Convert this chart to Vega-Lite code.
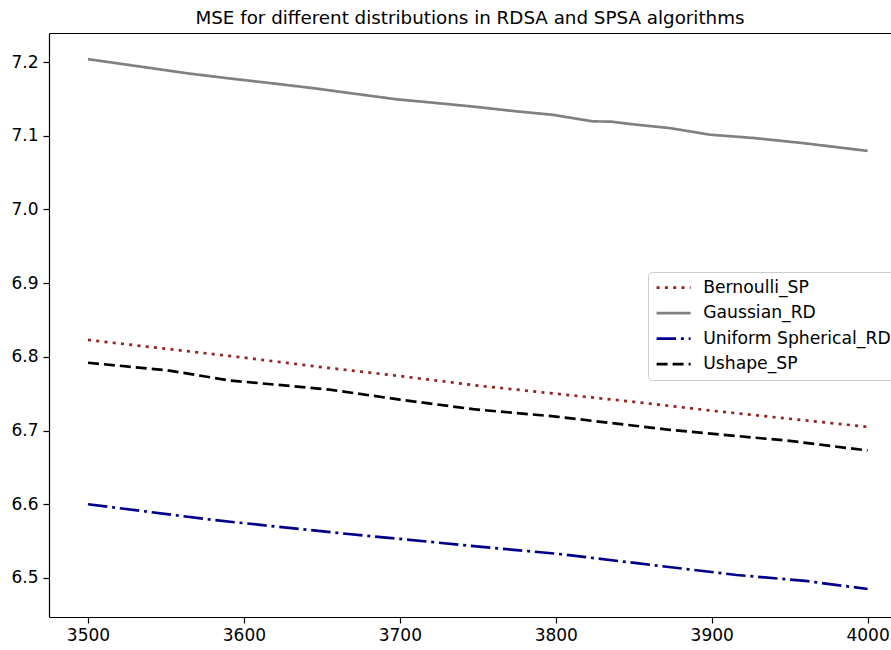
{
  "$schema": "https://vega.github.io/schema/vega-lite/v6.json",
  "width": 842,
  "height": 584,
  "autosize": {"type": "none"},
  "padding": {"left": 49, "top": 33, "right": 0, "bottom": 33},
  "background": "white",
  "title": {
    "text": "MSE for different distributions in RDSA and SPSA algorithms",
    "font": "DejaVu Sans",
    "fontSize": 18.3,
    "fontWeight": "normal",
    "color": "#000000",
    "offset": 5,
    "anchor": "middle"
  },
  "config": {
    "view": {"stroke": null},
    "font": "DejaVu Sans",
    "axis": {
      "grid": false,
      "domainColor": "#000000",
      "domainWidth": 1.2,
      "tickColor": "#000000",
      "tickWidth": 1.2,
      "tickSize": 6,
      "labelFont": "DejaVu Sans",
      "labelFontSize": 17,
      "labelColor": "#000000",
      "title": null
    },
    "legend": {
      "fillColor": "rgba(255,255,255,0.85)",
      "strokeColor": "#cccccc",
      "cornerRadius": 4,
      "padding": 7,
      "labelFont": "DejaVu Sans",
      "labelFontSize": 17.2,
      "labelColor": "#000000",
      "labelLimit": 0,
      "labelOffset": 21,
      "rowPadding": 7.5,
      "symbolType": "M-3.4,0H3.4",
      "symbolSize": 100,
      "symbolOffset": 10,
      "symbolStrokeWidth": 2.7
    }
  },
  "data": {
    "values": [
      {"x": 3500, "mse": 7.204, "series": "Gaussian_RD"},
      {"x": 3525, "mse": 7.1965, "series": "Gaussian_RD"},
      {"x": 3540, "mse": 7.192, "series": "Gaussian_RD"},
      {"x": 3563, "mse": 7.185, "series": "Gaussian_RD"},
      {"x": 3590, "mse": 7.178, "series": "Gaussian_RD"},
      {"x": 3615, "mse": 7.172, "series": "Gaussian_RD"},
      {"x": 3645, "mse": 7.1645, "series": "Gaussian_RD"},
      {"x": 3666, "mse": 7.1585, "series": "Gaussian_RD"},
      {"x": 3698, "mse": 7.1495, "series": "Gaussian_RD"},
      {"x": 3721, "mse": 7.145, "series": "Gaussian_RD"},
      {"x": 3750, "mse": 7.139, "series": "Gaussian_RD"},
      {"x": 3771, "mse": 7.134, "series": "Gaussian_RD"},
      {"x": 3798, "mse": 7.1285, "series": "Gaussian_RD"},
      {"x": 3824, "mse": 7.1195, "series": "Gaussian_RD"},
      {"x": 3835, "mse": 7.1193, "series": "Gaussian_RD"},
      {"x": 3852, "mse": 7.115, "series": "Gaussian_RD"},
      {"x": 3873, "mse": 7.1105, "series": "Gaussian_RD"},
      {"x": 3899, "mse": 7.1015, "series": "Gaussian_RD"},
      {"x": 3927, "mse": 7.097, "series": "Gaussian_RD"},
      {"x": 3959, "mse": 7.09, "series": "Gaussian_RD"},
      {"x": 4000, "mse": 7.0795, "series": "Gaussian_RD"},

      {"x": 3500, "mse": 6.823, "series": "Bernoulli_SP"},
      {"x": 3550, "mse": 6.811, "series": "Bernoulli_SP"},
      {"x": 3600, "mse": 6.799, "series": "Bernoulli_SP"},
      {"x": 3650, "mse": 6.786, "series": "Bernoulli_SP"},
      {"x": 3700, "mse": 6.774, "series": "Bernoulli_SP"},
      {"x": 3750, "mse": 6.761, "series": "Bernoulli_SP"},
      {"x": 3800, "mse": 6.750, "series": "Bernoulli_SP"},
      {"x": 3850, "mse": 6.739, "series": "Bernoulli_SP"},
      {"x": 3900, "mse": 6.727, "series": "Bernoulli_SP"},
      {"x": 3950, "mse": 6.716, "series": "Bernoulli_SP"},
      {"x": 4000, "mse": 6.705, "series": "Bernoulli_SP"},

      {"x": 3500, "mse": 6.600, "series": "Uniform Spherical_RD"},
      {"x": 3581, "mse": 6.5785, "series": "Uniform Spherical_RD"},
      {"x": 3667, "mse": 6.5596, "series": "Uniform Spherical_RD"},
      {"x": 3700, "mse": 6.553, "series": "Uniform Spherical_RD"},
      {"x": 3751, "mse": 6.5424, "series": "Uniform Spherical_RD"},
      {"x": 3800, "mse": 6.533, "series": "Uniform Spherical_RD"},
      {"x": 3852, "mse": 6.520, "series": "Uniform Spherical_RD"},
      {"x": 3916, "mse": 6.504, "series": "Uniform Spherical_RD"},
      {"x": 3960, "mse": 6.496, "series": "Uniform Spherical_RD"},
      {"x": 4000, "mse": 6.485, "series": "Uniform Spherical_RD"},

      {"x": 3500, "mse": 6.792, "series": "Ushape_SP"},
      {"x": 3550, "mse": 6.782, "series": "Ushape_SP"},
      {"x": 3591, "mse": 6.768, "series": "Ushape_SP"},
      {"x": 3655, "mse": 6.7555, "series": "Ushape_SP"},
      {"x": 3700, "mse": 6.742, "series": "Ushape_SP"},
      {"x": 3747, "mse": 6.729, "series": "Ushape_SP"},
      {"x": 3800, "mse": 6.719, "series": "Ushape_SP"},
      {"x": 3873, "mse": 6.701, "series": "Ushape_SP"},
      {"x": 3950, "mse": 6.686, "series": "Ushape_SP"},
      {"x": 4000, "mse": 6.673, "series": "Ushape_SP"}
    ]
  },
  "layer": [
    {
      "mark": {"type": "line", "strokeWidth": 2.7, "clip": true},
      "encoding": {
        "x": {
          "field": "x",
          "type": "quantitative",
          "scale": {"domain": [3475, 4015], "nice": false, "zero": false},
          "axis": {"values": [3500, 3600, 3700, 3800, 3900, 4000], "labelPadding": 4, "format": "d"}
        },
        "y": {
          "field": "mse",
          "type": "quantitative",
          "scale": {"domain": [6.447, 7.2395], "nice": false, "zero": false},
          "axis": {"values": [6.5, 6.6, 6.7, 6.8, 6.9, 7.0, 7.1, 7.2], "format": ".1f", "labelPadding": 5}
        },
        "color": {
          "field": "series",
          "type": "nominal",
          "scale": {
            "domain": ["Bernoulli_SP", "Gaussian_RD", "Uniform Spherical_RD", "Ushape_SP"],
            "range": ["#961f1f", "#808080", "#00008b", "#000000"]
          },
          "legend": {"title": null, "orient": "none", "legendX": 599, "legendY": 239}
        },
        "strokeDash": {
          "field": "series",
          "type": "nominal",
          "scale": {
            "domain": ["Bernoulli_SP", "Gaussian_RD", "Uniform Spherical_RD", "Ushape_SP"],
            "range": [[3, 5.3], [1, 0], [19.5, 4.8, 3, 4.8], [11, 5]]
          },
          "legend": {"title": null, "orient": "none", "legendX": 599, "legendY": 239}
        }
      }
    },
    {
      "mark": {"type": "point", "opacity": 0},
      "encoding": {
        "x": {
          "field": "x",
          "type": "quantitative",
          "axis": {"orient": "top", "labels": false, "ticks": false, "domain": true}
        }
      }
    }
  ],
  "resolve": {"axis": {"x": "independent"}}
}
